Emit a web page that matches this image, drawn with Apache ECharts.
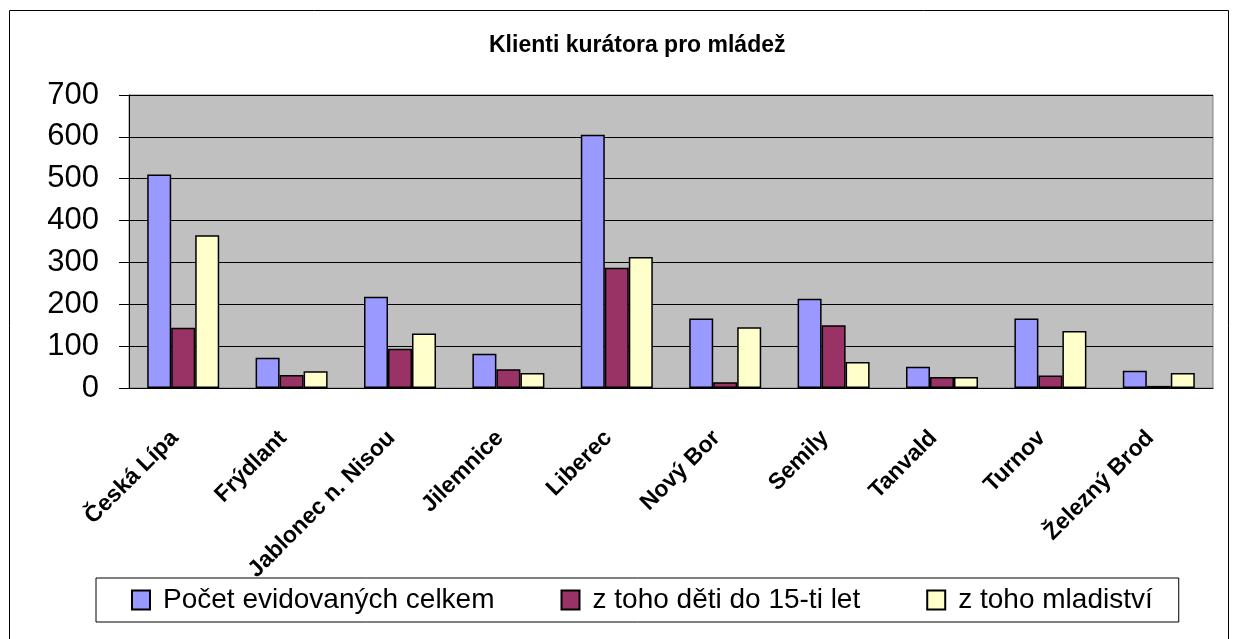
<!DOCTYPE html>
<html>
<head>
<meta charset="utf-8">
<script src="https://cdn.jsdelivr.net/npm/echarts@6/dist/echarts.min.js"></script>
<style>
  html, body { margin: 0; padding: 0; background: #fff; }
  #chart { width: 1237px; height: 639px; }
</style>
</head>
<body>
<div id="chart"></div>
<script>
// districts
const categories = ['Česká Lípa', 'Frýdlant', 'Jablonec n. Nisou', 'Jilemnice', 'Liberec',
  'Nový Bor', 'Semily', 'Tanvald', 'Turnov', 'Železný Brod'];

// series values
const celkem = [510, 72, 218, 82, 605, 166, 213, 51, 166, 41];
const deti = [144, 31, 94, 45, 287, 14, 150, 26, 30, 5];
const mladistvi = [365, 40, 130, 36, 313, 145, 62, 26, 136, 36];

const seriesNames = ['Počet evidovaných celkem', 'z toho děti do 15-ti let', 'z toho mladiství'];
const colors = ['#9999FF', '#993366', '#FFFFCC'];

const chart = echarts.init(document.getElementById('chart'));

const barStyle = (color) => ({
  color: color,
  borderColor: '#000',
  borderWidth: 1.5
});

chart.setOption({
  animation: false,
  backgroundColor: '#fff',
  textStyle: { fontFamily: 'Liberation Sans, Arial, sans-serif', color: '#000' },
  title: {
    text: 'Klienti kurátora pro mládež',
    left: 484,
    top: 29,
    textStyle: { fontSize: 23, fontWeight: 'bold', color: '#000' }
  },
  graphic: [{
    type: 'rect',
    shape: { x: 9.5, y: 10.5, width: 1219, height: 640 },
    style: { fill: null, stroke: '#000', lineWidth: 1 },
    silent: true
  }],
  legend: {
    left: 96,
    top: 578,
    orient: 'horizontal',
    icon: 'rect',
    backgroundColor: '#fff',
    borderColor: '#000',
    borderWidth: 1,
    padding: [8, 26, 8, 35],
    itemGap: 66,
    itemWidth: 18,
    itemHeight: 19,
    z: 10,
    textStyle: { fontSize: 28, color: '#000', padding: [0, 0, 0, 8] },
    data: seriesNames
  },
  grid: {
    left: 129,
    right: 24,
    top: 95,
    bottom: 251,
    show: true,
    backgroundColor: '#C0C0C0',
    borderColor: '#808080',
    borderWidth: 1
  },
  xAxis: {
    type: 'category',
    data: categories,
    axisLine: { lineStyle: { color: '#000', width: 1 } },
    axisTick: { length: 6, lineStyle: { color: '#000' } },
    axisLabel: {
      rotate: 45,
      interval: 0,
      margin: 38,
      fontSize: 23,
      fontWeight: 'bold',
      color: '#000',
      padding: [0, 12, 0, 0]
    }
  },
  yAxis: {
    type: 'value',
    min: 0,
    max: 700,
    interval: 100,
    axisLine: { show: true, lineStyle: { color: '#000', width: 1 } },
    axisTick: { show: true, length: 10, lineStyle: { color: '#000' } },
    splitLine: { lineStyle: { color: '#000', width: 1 } },
    axisLabel: {
      margin: 30,
      fontSize: 31,
      color: '#000'
    }
  },
  series: [
    { name: seriesNames[0], type: 'bar', data: celkem, barWidth: 24, barGap: '0%', itemStyle: barStyle(colors[0]) },
    { name: seriesNames[1], type: 'bar', data: deti, barWidth: 24, barGap: '0%', itemStyle: barStyle(colors[1]) },
    { name: seriesNames[2], type: 'bar', data: mladistvi, barWidth: 24, barGap: '0%', itemStyle: barStyle(colors[2]) }
  ]
});
</script>
</body>
</html>
